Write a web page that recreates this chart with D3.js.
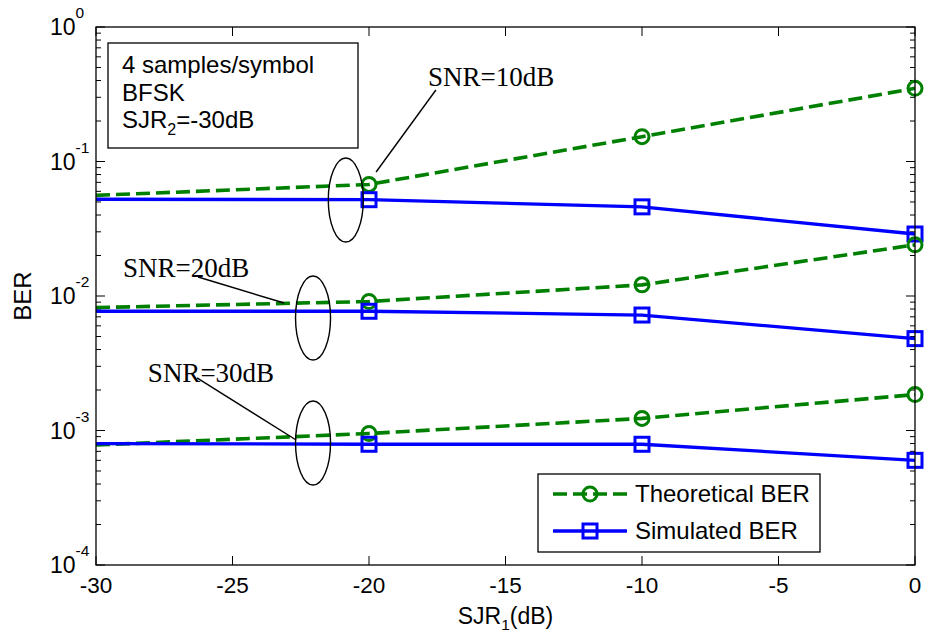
<!DOCTYPE html>
<html>
<head>
<meta charset="utf-8">
<script src="https://cdn.jsdelivr.net/npm/d3@7"></script>
<style>
  html, body { margin: 0; padding: 0; background: #fff; }
  svg { display: block; }
  text { font-family: "Liberation Sans", Arial, sans-serif; fill: #000; }
  .serif { font-family: "Liberation Serif", "Times New Roman", serif; }
</style>
</head>
<body>
<script>
// SJR1 sweep (dB)
const sjr = [-30, -20, -10, 0];
// markers drawn only at these indices (the -30 dB point is line-only)
const markerIdx = [1, 2, 3];

// Theoretical BER for SNR = 10, 20, 30 dB
const theo10 = [0.0560, 0.0675, 0.153, 0.350];
const theo20 = [0.0082, 0.0091, 0.0121, 0.0240];
const theo30 = [0.00078, 0.00095, 0.00123, 0.00185];
// Simulated BER for SNR = 10, 20, 30 dB
const sim10 = [0.0524, 0.0520, 0.0460, 0.0289];
const sim20 = [0.0077, 0.0077, 0.00722, 0.00482];
const sim30 = [0.00080, 0.00079, 0.00079, 0.00060];

const xTicks = [-30, -25, -20, -15, -10, -5, 0];
const yTickExps = [0, -1, -2, -3, -4];
const legendLabels = ["Theoretical BER", "Simulated BER"];
const infoLines = ["4 samples/symbol", "BFSK", "SJR"];
const snrLabels = ["SNR=10dB", "SNR=20dB", "SNR=30dB"];

const W = 925, H = 639;
const margin = { left: 96, top: 27, right: 10, bottom: 74 };
const pw = W - margin.left - margin.right;
const ph = H - margin.top - margin.bottom;

const green = "#008000", blue = "#0000ff";
const dash = "14,6";

const svg = d3.select("body").append("svg").attr("width", W).attr("height", H);
const g = svg.append("g").attr("transform", `translate(${margin.left},${margin.top})`);

const x = d3.scaleLinear().domain([-30, 0]).range([0, pw]);
const y = d3.scaleLog().domain([1e-4, 1]).range([ph, 0]);

// minor log ticks
const minor = [];
for (let e = -4; e < 0; e++) for (let m = 2; m <= 9; m++) minor.push(m * Math.pow(10, e));

// axes box ticks (inward) on all four sides
const tickG = g.append("g").attr("stroke", "#000").attr("stroke-width", 1);
xTicks.forEach(v => {
  tickG.append("line").attr("x1", x(v)).attr("x2", x(v)).attr("y1", ph).attr("y2", ph - 9);
  tickG.append("line").attr("x1", x(v)).attr("x2", x(v)).attr("y1", 0).attr("y2", 9);
});
yTickExps.forEach(e => {
  const yy = y(Math.pow(10, e));
  tickG.append("line").attr("x1", 0).attr("x2", 9).attr("y1", yy).attr("y2", yy);
  tickG.append("line").attr("x1", pw).attr("x2", pw - 9).attr("y1", yy).attr("y2", yy);
});
minor.forEach(v => {
  const yy = y(v);
  tickG.append("line").attr("x1", 0).attr("x2", 5).attr("y1", yy).attr("y2", yy);
  tickG.append("line").attr("x1", pw).attr("x2", pw - 5).attr("y1", yy).attr("y2", yy);
});

// x tick labels
g.append("g").selectAll("text").data(xTicks).join("text")
  .attr("x", d => x(d)).attr("y", ph + 28)
  .attr("text-anchor", "middle").attr("font-size", 22.5)
  .text(d => d3.format("d")(d).replace("−", "-"));

// y tick labels: 10^e
const yl = g.append("g").selectAll("text").data(yTickExps).join("text")
  .attr("x", -46).attr("y", d => y(Math.pow(10, d)) + 8)
  .attr("font-size", 23);
yl.append("tspan").text("10");
yl.append("tspan").attr("dy", -17).attr("font-size", 15.5).text(d => String(d));

// axis titles
svg.append("text")
  .attr("transform", `translate(31,${margin.top + ph / 2}) rotate(-90)`)
  .attr("text-anchor", "middle").attr("font-size", 24).text("BER");
const xt = svg.append("text")
  .attr("x", margin.left + pw / 2).attr("y", 624)
  .attr("text-anchor", "middle").attr("font-size", 23);
xt.append("tspan").text("SJR");
xt.append("tspan").attr("dy", 6).attr("font-size", 15.5).text("1");
xt.append("tspan").attr("dy", -6).text("(dB)");

// series
const series = [
  { v: theo10, color: green, dash: dash, marker: "circle" },
  { v: sim10, color: blue, dash: null, marker: "square" },
  { v: theo20, color: green, dash: dash, marker: "circle" },
  { v: sim20, color: blue, dash: null, marker: "square" },
  { v: theo30, color: green, dash: dash, marker: "circle" },
  { v: sim30, color: blue, dash: null, marker: "square" }
];

const line = d3.line().x((d, i) => x(sjr[i])).y(d => y(d));

function drawMarker(sel, type, cx, cy, color) {
  if (type === "circle") {
    sel.append("circle").attr("cx", cx).attr("cy", cy).attr("r", 7)
      .attr("fill", "none").attr("stroke", color).attr("stroke-width", 3);
  } else {
    sel.append("rect").attr("x", cx - 7).attr("y", cy - 7).attr("width", 14).attr("height", 14)
      .attr("fill", "none").attr("stroke", color).attr("stroke-width", 3);
  }
}

const dataG = g.append("g");
series.forEach(s => {
  dataG.append("path").datum(s.v).attr("d", line)
    .attr("fill", "none").attr("stroke", s.color).attr("stroke-width", s.dash ? 3.6 : 3.3)
    .attr("stroke-dasharray", s.dash);
  markerIdx.forEach(i => drawMarker(dataG, s.marker, x(sjr[i]), y(s.v[i]), s.color));
});

// frame
g.append("rect").attr("width", pw).attr("height", ph)
  .attr("fill", "none").attr("stroke", "#000").attr("stroke-width", 1.3);

// SNR group annotations: ellipse around curve pair, leader line, label
const ann = [
  { label: snrLabels[0], ex: -20.85, ey: 0.0517, l1: [-19.74, 0.0835], l2: [-17.55, 0.34], tx: -17.84, ty: 0.364 },
  { label: snrLabels[1], ex: -22.05, ey: 0.00686, l1: [-26.26, 0.01384], l2: [-23.11, 0.00887], tx: -29.01, ty: 0.01384 },
  { label: snrLabels[2], ex: -22.05, ey: 0.000807, l1: [-26.3, 0.00246], l2: [-22.67, 0.00085], tx: -28.1, ty: 0.0023 }
];
const annG = g.append("g");
ann.forEach(a => {
  annG.append("ellipse").attr("cx", x(a.ex)).attr("cy", y(a.ey)).attr("rx", 17.5).attr("ry", 42)
    .attr("fill", "none").attr("stroke", "#000").attr("stroke-width", 1.4);
  annG.append("line").attr("x1", x(a.l1[0])).attr("y1", y(a.l1[1]))
    .attr("x2", x(a.l2[0])).attr("y2", y(a.l2[1]))
    .attr("stroke", "#000").attr("stroke-width", 1.4);
  annG.append("text").attr("class", "serif").attr("x", x(a.tx)).attr("y", y(a.ty))
    .attr("font-size", 27).text(a.label);
});

// info box
const info = svg.append("g").attr("transform", "translate(108,43)");
info.append("rect").attr("width", 250).attr("height", 105)
  .attr("fill", "#fff").attr("stroke", "#000").attr("stroke-width", 1.3);
info.append("text").attr("x", 14).attr("y", 30).attr("font-size", 24).text(infoLines[0]);
info.append("text").attr("x", 14).attr("y", 58).attr("font-size", 24).text(infoLines[1]);
const sjrT = info.append("text").attr("x", 14).attr("y", 85).attr("font-size", 24);
sjrT.append("tspan").text(infoLines[2]);
sjrT.append("tspan").attr("dy", 7).attr("font-size", 16).text("2");
sjrT.append("tspan").attr("dy", -7).text("=-30dB");

// legend
const leg = svg.append("g").attr("transform", "translate(538,474)");
leg.append("rect").attr("width", 282).attr("height", 78)
  .attr("fill", "#fff").attr("stroke", "#000").attr("stroke-width", 1.3);
[{ c: green, d: dash, m: "circle" }, { c: blue, d: null, m: "square" }].forEach((s, i) => {
  const yy = 20 + i * 37;
  leg.append("line").attr("x1", 15).attr("x2", 89).attr("y1", yy).attr("y2", yy)
    .attr("stroke", s.c).attr("stroke-width", s.d ? 3.6 : 3.3).attr("stroke-dasharray", s.d);
  drawMarker(leg, s.m, 52, yy, s.c);
  leg.append("text").attr("x", 97).attr("y", yy + 8).attr("font-size", 24).text(legendLabels[i]);
});
</script>
</body>
</html>
